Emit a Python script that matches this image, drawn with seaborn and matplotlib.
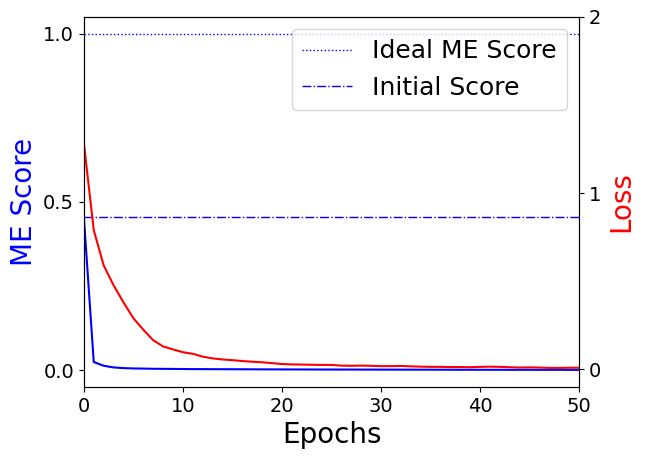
import numpy as np
import pandas as pd
import matplotlib
matplotlib.use("Agg")
import matplotlib.pyplot as plt
import seaborn as sns

# values
epochs = list(range(0, 51))
me_score = [0.455, 0.024, 0.013, 0.008, 0.006, 0.005, 0.0045, 0.004, 0.0038, 0.0035,
            0.0033, 0.003, 0.003, 0.0028, 0.0027, 0.0026, 0.0025, 0.0024, 0.0023, 0.0022,
            0.0021, 0.002, 0.002, 0.0019, 0.0018, 0.0018, 0.0017, 0.0017, 0.0016, 0.0016,
            0.0015, 0.0015, 0.0014, 0.0014, 0.0013, 0.0013, 0.0012, 0.0012, 0.0011, 0.0011,
            0.001, 0.001, 0.001, 0.0009, 0.0009, 0.0009, 0.0008, 0.0008, 0.0008, 0.0007,
            0.0007]
loss = [1.284, 0.79, 0.59, 0.477, 0.38, 0.29, 0.225, 0.165, 0.13, 0.113,
        0.097, 0.088, 0.072, 0.062, 0.056, 0.052, 0.047, 0.043, 0.04, 0.035,
        0.03, 0.028, 0.027, 0.026, 0.025, 0.025, 0.021, 0.02, 0.021, 0.02,
        0.018, 0.018, 0.019, 0.017, 0.015, 0.014, 0.014, 0.013, 0.013, 0.012,
        0.014, 0.015, 0.014, 0.012, 0.01, 0.011, 0.01, 0.008, 0.008, 0.009,
        0.009]
ideal_score = 1.0
initial_score = 0.455

df = pd.DataFrame({"Epochs": epochs, "ME": me_score, "Loss": loss})

fig, ax1 = plt.subplots(figsize=(6.45, 4.59), dpi=100)
fig.subplots_adjust(left=0.130, right=0.898, top=0.963, bottom=0.157)

sns.lineplot(data=df, x="Epochs", y="ME", color="blue", linewidth=1.5, ax=ax1)
ax1.axhline(ideal_score, color="blue", linestyle=":", linewidth=1, label="Ideal ME Score")
ax1.axhline(initial_score, color="blue", linestyle="-.", linewidth=1, label="Initial Score")
ax1.set_xlim(0, 50)
ax1.set_ylim(-0.05, 1.05)
ax1.set_yticks([0.0, 0.5, 1.0])
ax1.set_xlabel("Epochs", fontsize=20)
ax1.set_ylabel("ME Score", fontsize=20, color="blue")
ax1.tick_params(labelsize=14)
ax1.legend(loc="upper right", fontsize=18)

ax2 = ax1.twinx()
sns.lineplot(data=df, x="Epochs", y="Loss", color="red", linewidth=1.5, ax=ax2)
ax2.set_ylim(-0.1, 2.0)
ax2.set_yticks([0, 1, 2])
ax2.set_ylabel("Loss", fontsize=20, color="red")
ax2.tick_params(labelsize=14)

plt.savefig("out.png", dpi=100)
